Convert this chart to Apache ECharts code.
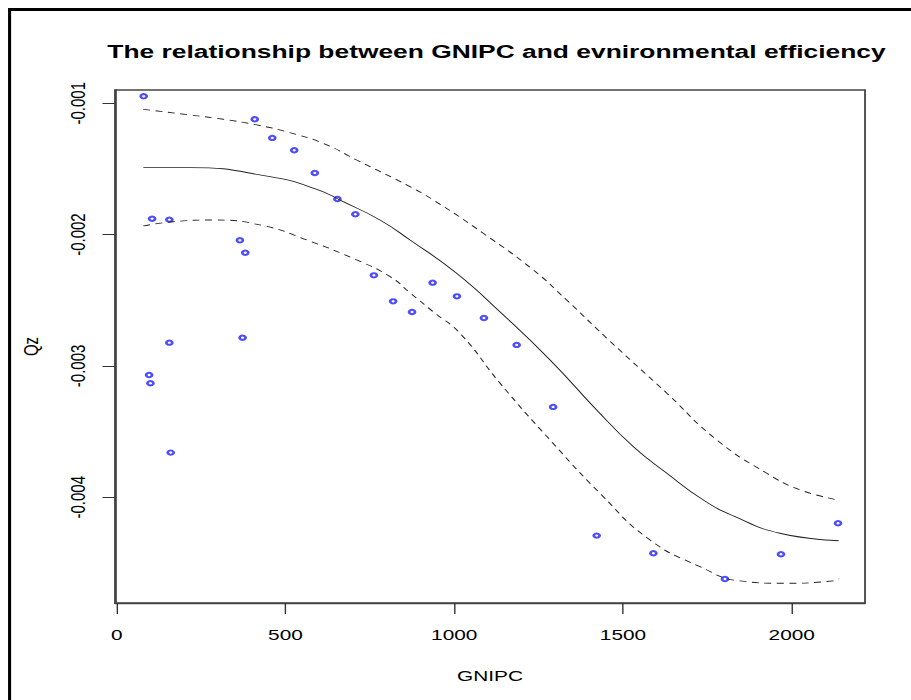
<!DOCTYPE html>
<html>
<head>
<meta charset="utf-8">
<script src="https://cdn.jsdelivr.net/npm/echarts@6/dist/echarts.min.js"></script>
<style>
  html, body { margin: 0; background: #fff; overflow: hidden; }
  /* the original R plot was stretched sideways when it was saved; redo that stretch */
  #main { width: 656px; height: 700px; transform: scaleX(1.3887); transform-origin: 0 0; }
</style>
</head>
<body>
<div id="main"></div>
<script>
// observed points: GNIPC, Qz
var gnipc = [80, 105, 156, 96, 100, 156, 160, 365, 381, 373, 409, 461, 526, 587, 654, 707,
  762, 819, 875, 936, 1008, 1088, 1185, 1293, 1422, 1590, 1802, 1968, 2137];
var qz = [-0.000947, -0.001879, -0.001886, -0.003069, -0.003132, -0.002823, -0.003660,
  -0.002043, -0.002138, -0.002785, -0.001122, -0.001264, -0.001358, -0.001531, -0.001729,
  -0.001845, -0.002310, -0.002508, -0.002589, -0.002366, -0.002470, -0.002635, -0.002840,
  -0.003312, -0.004292, -0.004426, -0.004622, -0.004434, -0.004198];

// fitted curve
var fitX = [79, 217, 454, 593, 671, 780, 869, 1007, 1136, 1284, 1422, 1531, 1630, 1738, 1827, 1965, 2139];
var fitY = [-0.001490, -0.001490, -0.001559, -0.001655, -0.001749, -0.001889, -0.002041, -0.002294,
  -0.002589, -0.002954, -0.003335, -0.003615, -0.003817, -0.004021, -0.004142, -0.004274, -0.004331];

// upper band
var upX = [79, 217, 316, 415, 513, 612, 711, 869, 938, 1086, 1234, 1333, 1452, 1630, 1778, 1926, 2025, 2139];
var upY = [-0.001046, -0.001089, -0.001122, -0.001165, -0.001224, -0.001305, -0.001432, -0.001635,
  -0.001736, -0.001990, -0.002269, -0.002498, -0.002789, -0.003208, -0.003564, -0.003817, -0.003944, -0.004021];

// lower band
var loX = [79, 168, 286, 434, 563, 711, 810, 869, 938, 1017, 1136, 1284, 1432, 1580, 1728, 1847, 1975, 2123, 2139];
var loY = [-0.001934, -0.001902, -0.001889, -0.001932, -0.002041, -0.002193, -0.002320, -0.002443,
  -0.002588, -0.002751, -0.003132, -0.003564, -0.003970, -0.004325, -0.004528, -0.004637, -0.004655,
  -0.004637, -0.004620];

var xTicks = [0, 500, 1000, 1500, 2000];
var yTicks = [-0.001, -0.002, -0.003, -0.004];

function pairs(xs, ys) {
  return xs.map(function (x, i) { return [x, ys[i]]; });
}

var myChart = echarts.init(document.getElementById('main'), null, { renderer: 'svg' });
var font = 'Liberation Sans, Arial, sans-serif';

option = {
  backgroundColor: '#fff',
  animation: false,
  title: {
    text: 'The relationship between GNIPC and evnironmental efficiency',
    left: 352.5,
    top: 37,
    textAlign: 'center',
    textStyle: { fontFamily: font, fontSize: 19, fontWeight: 'bold', color: '#000' }
  },
  graphic: [
    { type: 'rect', shape: { x: 5.8, y: 8, width: 2.2, height: 700 }, style: { fill: '#000' } },
    { type: 'rect', shape: { x: 5.8, y: 8, width: 660, height: 3 }, style: { fill: '#000' } }
  ],
  grid: {
    left: 82.8, top: 90, width: 540.1, height: 513,
    show: true, borderColor: '#444', borderWidth: 1.3, backgroundColor: 'transparent'
  },
  xAxis: {
    type: 'value',
    min: -5, max: 2217,
    name: 'GNIPC',
    nameLocation: 'middle',
    nameGap: 66,
    nameTextStyle: { fontFamily: font, fontSize: 15, color: '#000' },
    axisLine: { show: true, onZero: false, lineStyle: { color: '#444', width: 1.3 } },
    axisTick: { show: true, length: 11, customValues: xTicks, lineStyle: { color: '#333' } },
    axisLabel: {
      customValues: xTicks, margin: 25, fontFamily: font, fontSize: 15, color: '#000',
      formatter: function (v) { return String(v); }
    },
    splitLine: { show: false }
  },
  yAxis: {
    type: 'value',
    min: -0.004805, max: -0.000899,
    name: 'Qz',
    nameLocation: 'middle',
    nameRotate: 90,
    nameGap: 53,
    nameTextStyle: { fontFamily: font, fontSize: 15, color: '#000' },
    axisLine: { show: true, onZero: false, lineStyle: { color: '#444', width: 1.3 } },
    axisTick: { show: true, length: 9, customValues: yTicks, lineStyle: { color: '#333' } },
    axisLabel: {
      customValues: yTicks, rotate: 90, margin: 19,
      fontFamily: font, fontSize: 15, color: '#000',
      formatter: function (v) { return v.toFixed(3); }
    },
    splitLine: { show: false }
  },
  series: [
    {
      type: 'line', data: pairs(upX, upY), smooth: true, symbol: 'none',
      lineStyle: { color: '#222', width: 0.85, type: [5, 4] }
    },
    {
      type: 'line', data: pairs(fitX, fitY), smooth: true, symbol: 'none',
      lineStyle: { color: '#222', width: 0.85 }
    },
    {
      type: 'line', data: pairs(loX, loY), smooth: true, symbol: 'none',
      lineStyle: { color: '#222', width: 0.85, type: [5, 4] }
    },
    {
      type: 'scatter', data: pairs(gnipc, qz),
      symbol: 'emptyCircle', symbolSize: 4.3,
      itemStyle: { color: '#2020ff', borderColor: '#2020ff', borderWidth: 1.1 }
    }
  ]
};
myChart.setOption(option);
</script>
</body>
</html>
